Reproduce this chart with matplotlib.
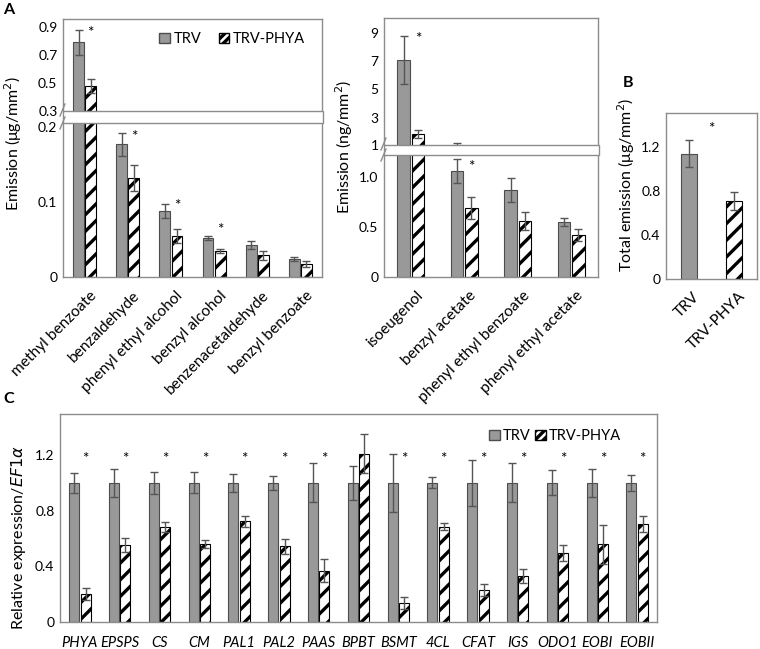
import numpy as np
import matplotlib
matplotlib.use("Agg")
import matplotlib.pyplot as plt
import matplotlib.transforms as mtransforms
from matplotlib.patches import Rectangle, Patch
from matplotlib.lines import Line2D

plt.rcParams['font.family'] = ['Lato', 'DejaVu Sans']
plt.rcParams['hatch.linewidth'] = 2.4
plt.rcParams['hatch.color'] = 'black'

# ---- panel A (left): emission ug/mm2
voc1_names = ['methyl benzoate', 'benzaldehyde', 'phenyl ethyl alcohol',
              'benzyl alcohol', 'benzenacetaldehyde', 'benzyl benzoate']
voc1_trv = [0.79, 0.177, 0.088, 0.052, 0.043, 0.024]
voc1_trv_err = [0.09, 0.015, 0.009, 0.003, 0.005, 0.0025]
voc1_phya = [0.48, 0.132, 0.055, 0.035, 0.029, 0.017]
voc1_phya_err = [0.05, 0.017, 0.009, 0.003, 0.006, 0.004]
voc1_star = [0.886, 0.192, 0.100, 0.068, None, None]

# ---- panel A (right): emission ng/mm2
voc2_names = ['isoeugenol', 'benzyl acetate', 'phenyl ethyl benzoate', 'phenyl ethyl acetate']
voc2_trv = [7.1, 1.06, 0.87, 0.55]
voc2_trv_err = [1.7, 0.12, 0.12, 0.04]
voc2_phya = [1.85, 0.69, 0.56, 0.42]
voc2_phya_err = [0.3, 0.11, 0.09, 0.06]
voc2_star = [8.86, 1.14, None, None]

# ---- panel B: total emission
total_names = ['TRV', 'TRV-PHYA']
total_vals = [1.14, 0.71]
total_err = [0.12, 0.08]
total_star = 1.4

# ---- panel C: relative expression
genes = ['PHYA', 'EPSPS', 'CS', 'CM', 'PAL1', 'PAL2', 'PAAS', 'BPBT', 'BSMT',
         '4CL', 'CFAT', 'IGS', 'ODO1', 'EOBI', 'EOBII']
gene_trv = [1.0] * 15
gene_trv_err = [0.07, 0.10, 0.08, 0.075, 0.065, 0.05, 0.14, 0.12, 0.21,
                0.04, 0.165, 0.14, 0.09, 0.10, 0.06]
gene_phya = [0.20, 0.555, 0.685, 0.56, 0.725, 0.545, 0.37, 1.21, 0.135,
             0.685, 0.23, 0.33, 0.495, 0.56, 0.705]
gene_phya_err = [0.045, 0.05, 0.035, 0.03, 0.04, 0.055, 0.085, 0.14, 0.045,
                 0.025, 0.045, 0.05, 0.055, 0.14, 0.055]
gene_star = [1.2] * 7 + [None] + [1.2] * 7

W, H = 760, 649
GRAY = '#999999'
EDGE = '#4d4d4d'
SPINE = '#8c8c8c'
ERRC = '#555555'
TICK_FS = 10
LAB_FS = 10.5
YLAB_FS = 11.5
STAR_FS = 11

fig = plt.figure(figsize=(W / 100, H / 100), dpi=100)


def px_axes(l, t, r, b):
    return fig.add_axes([l / W, 1 - b / H, (r - l) / W, (b - t) / H])


def style(ax):
    for s in ax.spines.values():
        s.set_color(SPINE)
        s.set_linewidth(1.0)
    ax.tick_params(length=0, labelsize=TICK_FS, pad=4)


def draw_bars(ax, x, a, aerr, b, berr, off, width):
    ax.bar(x - off, a, width, color=GRAY, edgecolor=EDGE, linewidth=0.8, zorder=2)
    ax.bar(x + off, b, width, color='white', edgecolor='black', linewidth=0.8,
           hatch='//', zorder=2)
    ax.errorbar(x - off, a, yerr=aerr, fmt='none', ecolor=ERRC, elinewidth=1,
                capsize=3, capthick=1, zorder=3)
    ax.errorbar(x + off, b, yerr=berr, fmt='none', ecolor=ERRC, elinewidth=1,
                capsize=3, capthick=1, zorder=3)


def star(ax, x, y):
    ax.annotate('*', (x, y), xytext=(0, -3), textcoords='offset points',
                ha='center', va='center', fontsize=STAR_FS)


def broken_pair(l, r, t, gap_t, gap_b, b, ylim_up, ylim_lo, ticks_up, ticks_lo,
                tl_up, tl_lo, n):
    up = px_axes(l, t, r, gap_t)
    lo = px_axes(l, gap_b, r, b)
    for ax in (up, lo):
        style(ax)
        ax.set_xlim(-0.5, n - 0.5)
    up.spines['bottom'].set_visible(False)
    lo.spines['top'].set_visible(False)
    up.set_ylim(*ylim_up)
    lo.set_ylim(*ylim_lo)
    up.set_yticks(ticks_up, tl_up)
    lo.set_yticks(ticks_lo, tl_lo)
    up.set_xticks([])
    # white break band
    band = Rectangle(((l) / W, 1 - (gap_b + 0.5) / H), (r - l + 1) / W,
                     (gap_b - gap_t + 1) / H, transform=fig.transFigure,
                     facecolor='white', edgecolor=SPINE, linewidth=1.0, zorder=5)
    fig.add_artist(band)
    for yy in (gap_t - 1, gap_b + 1):
        fig.add_artist(Line2D([(l - 3) / W, (l + 2) / W],
                              [1 - (yy + 6) / H, 1 - (yy - 6) / H],
                              transform=fig.transFigure, color=SPINE, lw=1.0, zorder=6))
    return up, lo


def add_xlabels(ax, names, fs, dx=5, dy=-3):
    ax.set_xticks(np.arange(len(names)))
    labels = ax.set_xticklabels(names, rotation=45, ha='right', va='top',
                                rotation_mode='anchor', fontsize=fs)
    ax.tick_params(axis='x', pad=6)
    shift = mtransforms.ScaledTranslation(dx / 100, dy / 100, fig.dpi_scale_trans)
    for lab in labels:
        lab.set_transform(lab.get_transform() + shift)


def legend(ax, anchor, colsp):
    ax.legend(handles=[Patch(facecolor=GRAY, edgecolor=EDGE, label='TRV'),
                       Patch(facecolor='white', edgecolor='black', hatch='////',
                             label='TRV-PHYA')],
              loc='upper right', ncol=2, frameon=False, fontsize=LAB_FS,
              handlelength=0.7, handleheight=0.7, handletextpad=0.25,
              columnspacing=colsp, bbox_to_anchor=anchor, borderaxespad=0)


# ---------------- A left
x1 = np.arange(len(voc1_names))
up1, lo1 = broken_pair(63, 322, 19, 111, 122, 277, (0.3, 0.957), (0, 0.2067),
                       [0.3, 0.5, 0.7, 0.9], [0, 0.1, 0.2],
                       ['0.3', '0.5', '0.7', '0.9'], ['0', '0.1', '0.2'], len(voc1_names))
for ax in (up1, lo1):
    draw_bars(ax, x1, voc1_trv, voc1_trv_err, voc1_phya, voc1_phya_err, 0.14, 0.25)
for i, s in enumerate(voc1_star):
    if s is not None:
        star(up1 if s > 0.3 else lo1, i + 0.14, s)
add_xlabels(lo1, voc1_names, 11.2)
legend(up1, (0.955, 0.92), 1.2)
fig.text(13 / W, 1 - 144 / H, 'Emission (μg/mm$^2$)', rotation=90, ha='center',
         va='center', fontsize=YLAB_FS)

# ---------------- A right
x2 = np.arange(len(voc2_names))
up2, lo2 = broken_pair(384, 598, 18, 145, 154, 277, (1.07, 10.06), (0, 1.23),
                       [3, 5, 7, 9], [0, 0.5, 1.0],
                       ['3', '5', '7', '9'], ['0', '0.5', '1.0'], len(voc2_names))
fig.text(379 / W, 1 - 146 / H, '1', ha='right', va='center', fontsize=TICK_FS)
for ax in (up2, lo2):
    draw_bars(ax, x2, voc2_trv, voc2_trv_err, voc2_phya, voc2_phya_err, 0.135, 0.23)
for i, s in enumerate(voc2_star):
    if s is not None:
        star(up2 if s > 1.3 else lo2, i + 0.14, s)
add_xlabels(lo2, voc2_names, 11.2)
fig.text(344 / W, 1 - 147 / H, 'Emission (ng/mm$^2$)', rotation=90, ha='center',
         va='center', fontsize=YLAB_FS)

# ---------------- B
axb = px_axes(666, 113, 757, 279)
style(axb)
xb = np.arange(len(total_names))
axb.bar(xb[0], total_vals[0], 0.35, color=GRAY, edgecolor=EDGE, linewidth=0.8, zorder=2)
axb.bar(xb[1], total_vals[1], 0.35, color='white', edgecolor='black', linewidth=0.8,
        hatch='//', zorder=2)
axb.errorbar(xb, total_vals, yerr=total_err, fmt='none', ecolor=ERRC, elinewidth=1,
             capsize=3, capthick=1, zorder=3)
axb.set_xlim(-0.5, 1.5)
axb.set_ylim(0, 1.51)
axb.set_yticks([0, 0.4, 0.8, 1.2], ['0', '0.4', '0.8', '1.2'])
star(axb, 0.5, total_star)
add_xlabels(axb, total_names, 11, dx=4, dy=-2)
fig.text(626 / W, 1 - 185 / H, 'Total emission (μg/mm$^2$)', rotation=90, ha='center',
         va='center', fontsize=YLAB_FS)

# ---------------- C
axc = px_axes(60, 414, 657, 622)
style(axc)
xc = np.arange(len(genes))
draw_bars(axc, xc, gene_trv, gene_trv_err, gene_phya, gene_phya_err, 0.145, 0.25)
for i, s in enumerate(gene_star):
    if s is not None:
        star(axc, i + 0.14, s)
axc.set_xlim(-0.5, len(genes) - 0.5)
axc.set_ylim(0, 1.495)
axc.set_yticks([0, 0.4, 0.8, 1.2], ['0', '0.4', '0.8', '1.2'])
axc.set_xticks(xc)
axc.set_xticklabels(genes, fontstyle='italic', fontsize=10.5)
axc.tick_params(axis='x', pad=10)
legend(axc, (0.95, 0.955), 0.3)
fig.text(19 / W, 1 - 538 / H, 'Relative expression/$\\it{EF1α}$', rotation=90,
         ha='center', va='center', fontsize=YLAB_FS)

# panel letters
fig.text(3 / W, 1 - 3 / H, 'A', fontsize=11.5, fontweight='bold', ha='left', va='top')
fig.text(623 / W, 1 - 76 / H, 'B', fontsize=11.5, fontweight='bold', ha='left', va='top')
fig.text(3 / W, 1 - 392 / H, 'C', fontsize=11.5, fontweight='bold', ha='left', va='top')

fig.savefig('out.png', dpi=100)
